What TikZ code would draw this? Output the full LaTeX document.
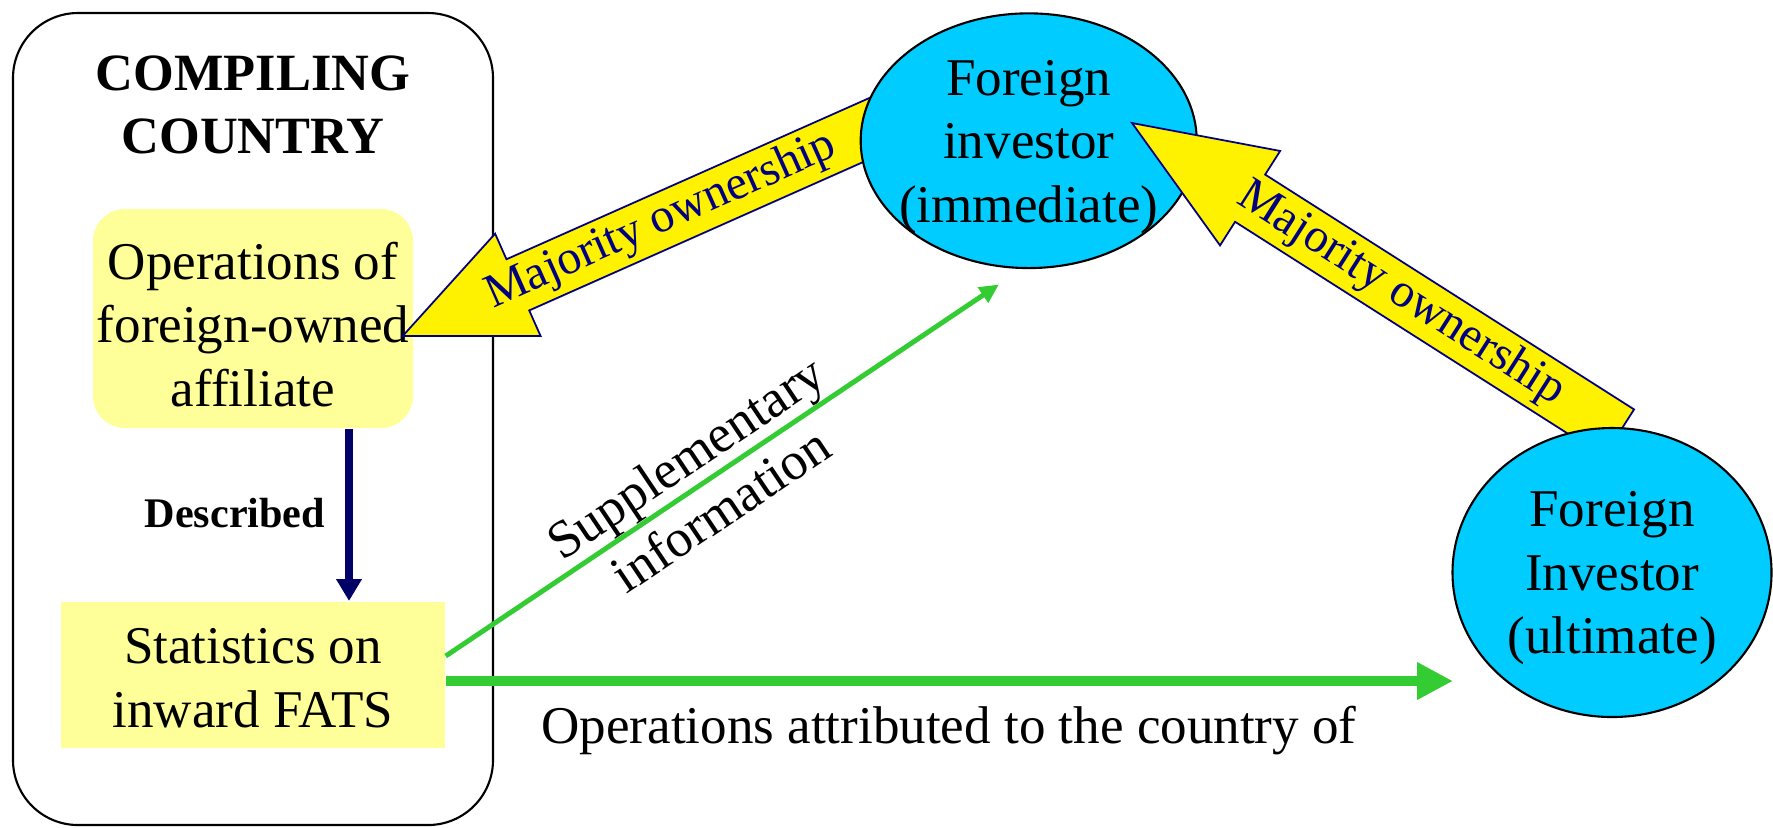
\documentclass[tikz,border=0pt]{standalone}
\usepackage{fontspec}
\setmainfont{Liberation Serif}
\usepackage{tikz}
\usetikzlibrary{calc}
\usetikzlibrary{arrows.meta}
\usetikzlibrary{shapes.geometric}
\definecolor{paleyellow}{HTML}{FFFF99}
\definecolor{skyblue}{HTML}{00CCFF}
\definecolor{ownnavy}{HTML}{000080}
\definecolor{darknavy}{HTML}{000066}
\definecolor{flowgreen}{HTML}{33CC33}
\tikzset{
	txt/.style={font=\fontsize{15.1}{18.1}\selectfont,align=center,text=black},
	investor/.style={draw,ellipse,fill=skyblue,line width=0.6pt,inner sep=0pt},
	ownarrow/.style={draw=ownnavy,fill=yellow,line width=0.5pt,line join=miter},
	ownlabel/.style={font=\fontsize{13.6}{15}\selectfont,text=ownnavy,inner sep=0pt},
}
% big yellow arrow: tail, tip, head length
\newcommand{\blockarrow}[3]{%
	\coordinate (#2 base) at ($(#2)!#3!(#1)$);
	\draw[ownarrow] ($(#1)!0.28cm!90:(#2)$) -- ($(#2 base)!0.28cm!90:(#2)$) -- ($(#2 base)!0.56cm!90:(#2)$) -- (#2) -- ($(#2 base)!0.56cm!-90:(#2)$) -- ($(#2 base)!0.28cm!-90:(#2)$) -- ($(#1)!0.28cm!-90:(#2)$) -- cycle;
}

\begin{document}
\begin{tikzpicture}
	\useasboundingbox (0,0) rectangle (17.73,-8.27);
	\node[draw,rounded corners=0.65cm,line width=0.6pt,minimum width=4.8cm,minimum height=8.12cm] (country) at (2.53,-4.19) {};
	\node[font=\fontsize{14.9}{17.8}\selectfont\bfseries,align=center] (title) at (2.53,-1.05) {COMPILING\\COUNTRY};
	\node[fill=paleyellow,rounded corners=0.32cm,minimum width=3.2cm,minimum height=2.19cm] (affiliate) at (2.53,-3.185) {};
	\node[txt] (affiliate text) at ([yshift=-0.06cm]affiliate.center) {Operations of\\foreign-owned\\affiliate};
	\node[fill=paleyellow,minimum width=3.84cm,minimum height=1.467cm] (fats) at (2.53,-6.75) {};
	\node[txt] (fats text) at ([yshift=-0.03cm]fats.center) {Statistics on\\inward FATS};
	\draw[darknavy,line width=2.4pt,-{Triangle[length=6.2pt,width=6.9pt]}] ([xshift=0.96cm]affiliate.south) -- node[left=0.08cm,pos=0.49,font=\fontsize{12}{14}\selectfont\bfseries,text=black] {Described} ([xshift=0.96cm]fats.north);

	\coordinate (tailA) at (9.00,-1.15);
	\coordinate (tipA) at ([shift={(-0.11,-0.175)}]affiliate.east);
	\blockarrow{tailA}{tipA}{1.26cm}
	\path (tipA) -- node[ownlabel,sloped,pos=0.52] {Majority ownership} (tailA);

	\node[investor,minimum width=3.36cm,minimum height=2.547cm] (immediate) at (10.287,-1.407) {};
	\node[txt] (immediate text) at ([yshift=-0.06cm]immediate.center) {Foreign\\investor\\(immediate)};

	\coordinate (tailB) at (16.19,-4.33);
	\coordinate (tipB) at ([shift={(1.033,0.177)}]immediate.center);
	\blockarrow{tailB}{tipB}{1.40cm}
	\path (tipB) -- node[ownlabel,sloped,pos=0.552] {Majority ownership} (tailB);

	\node[investor,minimum width=3.19cm,minimum height=2.89cm] (ultimate) at (16.12,-5.725) {};
	\node[txt] (ultimate text) at ([yshift=-0.057cm]ultimate.center) {Foreign\\Investor\\(ultimate)};

	\coordinate (suppl end) at ([shift={(-0.297,-0.153)}]immediate.south);
	\draw[flowgreen,line width=1.4pt,-{Triangle[length=5.5pt,width=5pt]}] ([yshift=0.19cm]fats.east) -- node[txt,sloped,pos=0.465] {Supplementary\\information} (suppl end);
	\coordinate (attr end) at (14.53,-6.81);
	\draw[flowgreen,line width=2.85pt,-{Triangle[length=10.2pt,width=10pt]}] ([yshift=-0.06cm]fats.east) -- (attr end);
	\node[txt] (attributed) at (9.49,-7.31) {Operations attributed to the country of};
\end{tikzpicture}
\end{document}
